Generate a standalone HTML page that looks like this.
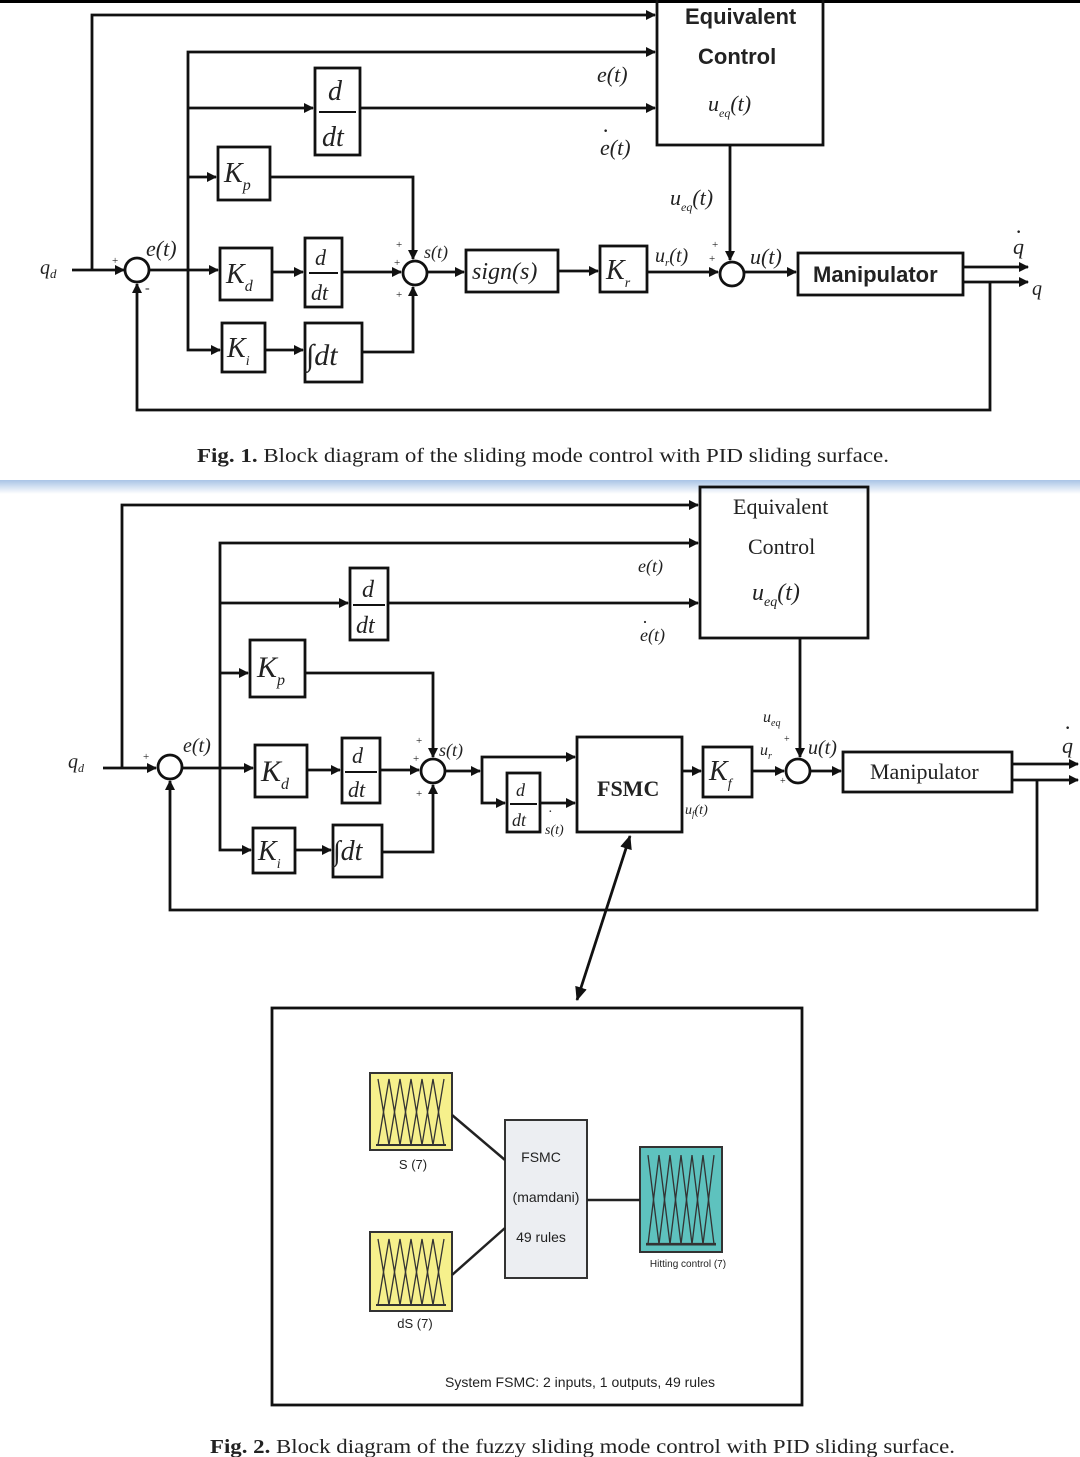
<!DOCTYPE html>
<html><head><meta charset="utf-8"><style>
html,body{margin:0;padding:0;background:#fff;}
svg{display:block;}
.s{font-family:"Liberation Serif",serif;font-style:italic;fill:#222;}
.r{font-family:"Liberation Serif",serif;fill:#222;}
.a{font-family:"Liberation Sans",sans-serif;fill:#222;}
</style></head><body>
<svg width="1080" height="1457" viewBox="0 0 1080 1457" xmlns="http://www.w3.org/2000/svg">
<defs>
<marker id="ar" markerWidth="10" markerHeight="10" refX="9" refY="5" orient="auto" markerUnits="userSpaceOnUse"><path d="M0,0 L10,5 L0,10 z" fill="#111"/></marker>
<marker id="ar2" markerWidth="14" markerHeight="12" refX="13" refY="6" orient="auto-start-reverse" markerUnits="userSpaceOnUse"><path d="M0,0 L14,6 L0,12 z" fill="#111"/></marker>
<linearGradient id="bl" x1="0" y1="0" x2="0" y2="1"><stop offset="0" stop-color="#a9c4e6"/><stop offset="1" stop-color="#ffffff"/></linearGradient>
<g id="mf"><polyline points="8,6 19,72 30,6 41,72 52,6 63,72 74,6" fill="none" stroke="#333" stroke-width="1.3"/><polyline points="8,72 19,6 30,72 41,6 52,72 63,6 74,72" fill="none" stroke="#333" stroke-width="1.3"/><line x1="6" y1="72" x2="76" y2="72" stroke="#333" stroke-width="2"/></g>
</defs>
<rect x="0" y="0" width="1080" height="3" fill="#000"/>
<rect x="0" y="480" width="1080" height="14" fill="url(#bl)"/>

<!-- FIG 1 -->
<g stroke="#111" stroke-width="2.8" fill="none">
<rect x="657" y="-2" width="166" height="147"/>
<rect x="315" y="68" width="45" height="87"/>
<rect x="218" y="147" width="52" height="53"/>
<rect x="220" y="248" width="52" height="52"/>
<rect x="305" y="238" width="37" height="69"/>
<rect x="222" y="323" width="43" height="49"/>
<rect x="305" y="323" width="57" height="59"/>
<rect x="466" y="250" width="92" height="42"/>
<rect x="600" y="246" width="47" height="46"/>
<rect x="798" y="253" width="165" height="42"/>
<circle cx="137" cy="270" r="12" fill="#fff"/>
<circle cx="415" cy="273" r="12" fill="#fff"/>
<circle cx="732" cy="274" r="12" fill="#fff"/>
<line x1="72" y1="270" x2="124" y2="270" marker-end="url(#ar)"/>
<polyline points="92,270 92,15 655,15" marker-end="url(#ar)"/>
<line x1="149" y1="270" x2="218" y2="270" marker-end="url(#ar)"/>
<polyline points="188,270 188,52 655,52"  marker-end="url(#ar)"/>
<line x1="188" y1="108" x2="313" y2="108" marker-end="url(#ar)"/>
<line x1="360" y1="108" x2="655" y2="108" marker-end="url(#ar)"/>
<line x1="188" y1="177" x2="216" y2="177" marker-end="url(#ar)"/>
<polyline points="188,270 188,350 220,350" marker-end="url(#ar)"/>
<polyline points="270,177 413,177 413,259" marker-end="url(#ar)"/>
<line x1="272" y1="272" x2="303" y2="272" marker-end="url(#ar)"/>
<line x1="342" y1="272" x2="401" y2="272" marker-end="url(#ar)"/>
<line x1="265" y1="350" x2="303" y2="350" marker-end="url(#ar)"/>
<polyline points="362,352 413,352 413,287" marker-end="url(#ar)"/>
<line x1="427" y1="272" x2="464" y2="272" marker-end="url(#ar)"/>
<line x1="558" y1="271" x2="598" y2="271" marker-end="url(#ar)"/>
<line x1="647" y1="272" x2="718" y2="272" marker-end="url(#ar)"/>
<line x1="730" y1="145" x2="730" y2="260" marker-end="url(#ar)"/>
<line x1="744" y1="272" x2="796" y2="272" marker-end="url(#ar)"/>
<line x1="963" y1="267" x2="1028" y2="267" marker-end="url(#ar)"/>
<line x1="963" y1="282" x2="1028" y2="282" marker-end="url(#ar)"/>
<polyline points="990,282 990,410 137,410 137,284" marker-end="url(#ar)"/>
</g>
<g fill="#111" stroke="#111" stroke-width="2"><line x1="319" y1="112" x2="356" y2="112"/><line x1="309" y1="273" x2="338" y2="273"/></g>
<text x="40" y="274" class="s" font-size="20">q<tspan font-size="13" dy="4">d</tspan></text>
<text x="112" y="264" class="r" font-size="11">+</text>
<text x="145" y="292" class="r" font-size="14">-</text>
<text x="146" y="256" class="s" font-size="22">e(t)</text>
<text x="685" y="24" class="a" font-size="22" font-weight="bold">Equivalent</text>
<text x="698" y="64" class="a" font-size="22" font-weight="bold">Control</text>
<text x="708" y="111" class="s" font-size="22">u<tspan font-size="12" dy="6">eq</tspan><tspan dy="-6">(t)</tspan></text>
<text x="597" y="82" class="s" font-size="22">e(t)</text>
<text x="600" y="155" class="s" font-size="22">e(t)</text><text x="602" y="138" class="r" font-size="22">·</text>
<text x="328" y="100" class="s" font-size="28">d</text><text x="322" y="146" class="s" font-size="28">dt</text>
<text x="224" y="182" class="s" font-size="28">K<tspan font-size="16" dy="8">p</tspan></text>
<text x="226" y="283" class="s" font-size="28">K<tspan font-size="16" dy="8">d</tspan></text>
<text x="315" y="265" class="s" font-size="22">d</text><text x="311" y="300" class="s" font-size="22">dt</text>
<text x="227" y="357" class="s" font-size="28">K<tspan font-size="14" dy="8">i</tspan></text>
<text x="306" y="365" class="s" font-size="30">∫dt</text>
<text x="396" y="248" class="r" font-size="11">+</text>
<text x="394" y="266" class="r" font-size="11">+</text>
<text x="396" y="298" class="r" font-size="11">+</text>
<text x="424" y="258" class="s" font-size="18">s(t)</text>
<text x="472" y="279" class="s" font-size="24">sign(s)</text>
<text x="606" y="279" class="s" font-size="28">K<tspan font-size="14" dy="8">r</tspan></text>
<text x="670" y="205" class="s" font-size="22">u<tspan font-size="12" dy="6">eq</tspan><tspan dy="-6">(t)</tspan></text>
<text x="655" y="262" class="s" font-size="20">u<tspan font-size="11" dy="4">r</tspan><tspan dy="-4">(t)</tspan></text>
<text x="712" y="248" class="r" font-size="11">+</text>
<text x="709" y="262" class="r" font-size="11">+</text>
<text x="750" y="264" class="s" font-size="22">u(t)</text>
<text x="813" y="282" class="a" font-size="22" font-weight="bold">Manipulator</text>
<text x="1013" y="254" class="s" font-size="22">q</text><text x="1015" y="239" class="r" font-size="22">·</text>
<text x="1032" y="295" class="s" font-size="20">q</text>
<text x="197" y="462" class="r" font-size="20" textLength="692" lengthAdjust="spacingAndGlyphs"><tspan font-weight="bold">Fig. 1.</tspan> Block diagram of the sliding mode control with PID sliding surface.</text>

<!-- FIG 2 -->
<g stroke="#111" stroke-width="2.8" fill="none">
<rect x="700" y="487" width="168" height="151"/>
<rect x="350" y="568" width="38" height="72"/>
<rect x="250" y="640" width="55" height="57"/>
<rect x="255" y="745" width="52" height="52"/>
<rect x="342" y="738" width="38" height="65"/>
<rect x="253" y="828" width="42" height="45"/>
<rect x="333" y="825" width="49" height="52"/>
<rect x="507" y="773" width="33" height="59"/>
<rect x="577" y="737" width="105" height="95"/>
<rect x="703" y="747" width="49" height="50"/>
<rect x="843" y="752" width="169" height="40"/>
<circle cx="170" cy="767" r="12" fill="#fff"/>
<circle cx="433" cy="771" r="12" fill="#fff"/>
<circle cx="798" cy="771" r="12" fill="#fff"/>
<line x1="103" y1="768" x2="156" y2="768" marker-end="url(#ar)"/>
<polyline points="122,768 122,505 698,505" marker-end="url(#ar)"/>
<line x1="182" y1="768" x2="253" y2="768" marker-end="url(#ar)"/>
<polyline points="220,768 220,543 698,543" marker-end="url(#ar)"/>
<line x1="220" y1="603" x2="348" y2="603" marker-end="url(#ar)"/>
<line x1="388" y1="603" x2="698" y2="603" marker-end="url(#ar)"/>
<line x1="220" y1="673" x2="248" y2="673" marker-end="url(#ar)"/>
<polyline points="220,768 220,850 251,850" marker-end="url(#ar)"/>
<polyline points="305,673 433,673 433,757" marker-end="url(#ar)"/>
<line x1="307" y1="770" x2="340" y2="770" marker-end="url(#ar)"/>
<line x1="380" y1="770" x2="419" y2="770" marker-end="url(#ar)"/>
<line x1="295" y1="850" x2="331" y2="850" marker-end="url(#ar)"/>
<polyline points="382,852 433,852 433,785" marker-end="url(#ar)"/>
<line x1="445" y1="771" x2="480" y2="771" marker-end="url(#ar)"/>
<polyline points="482,771 482,757 575,757" marker-end="url(#ar)"/>
<polyline points="482,771 482,803 505,803" marker-end="url(#ar)"/>
<line x1="540" y1="803" x2="575" y2="803" marker-end="url(#ar)"/>
<line x1="682" y1="771" x2="701" y2="771" marker-end="url(#ar)"/>
<line x1="752" y1="771" x2="784" y2="771" marker-end="url(#ar)"/>
<line x1="800" y1="638" x2="800" y2="757" marker-end="url(#ar)"/>
<line x1="810" y1="771" x2="841" y2="771" marker-end="url(#ar)"/>
<line x1="1012" y1="764" x2="1078" y2="764" marker-end="url(#ar)"/>
<line x1="1012" y1="780" x2="1078" y2="780" marker-end="url(#ar)"/>
<polyline points="1037,780 1037,910 170,910 170,781" marker-end="url(#ar)"/>
<line x1="630" y1="836" x2="577" y2="1000" marker-start="url(#ar2)" marker-end="url(#ar2)"/>
<rect x="272" y="1008" width="530" height="397"/>
</g>
<g stroke="#111" stroke-width="2"><line x1="353" y1="605" x2="385" y2="605"/><line x1="345" y1="772" x2="377" y2="772"/><line x1="510" y1="804" x2="537" y2="804"/></g>
<text x="68" y="768" class="s" font-size="20">q<tspan font-size="12" dy="4">d</tspan></text>
<text x="143" y="760" class="r" font-size="11">+</text>
<text x="183" y="752" class="s" font-size="20">e(t)</text>
<text x="733" y="514" class="r" font-size="22">Equivalent</text>
<text x="748" y="554" class="r" font-size="22">Control</text>
<text x="752" y="600" class="s" font-size="24">u<tspan font-size="14" dy="6">eq</tspan><tspan dy="-6">(t)</tspan></text>
<text x="638" y="572" class="s" font-size="18">e(t)</text>
<text x="640" y="641" class="s" font-size="18">e(t)</text><text x="642" y="628" class="r" font-size="18">·</text>
<text x="362" y="597" class="s" font-size="24">d</text><text x="356" y="633" class="s" font-size="24">dt</text>
<text x="257" y="677" class="s" font-size="30">K<tspan font-size="16" dy="8">p</tspan></text>
<text x="261" y="781" class="s" font-size="30">K<tspan font-size="16" dy="8">d</tspan></text>
<text x="352" y="763" class="s" font-size="22">d</text><text x="348" y="797" class="s" font-size="22">dt</text>
<text x="258" y="860" class="s" font-size="28">K<tspan font-size="14" dy="8">i</tspan></text>
<text x="333" y="860" class="s" font-size="28">∫dt</text>
<text x="416" y="744" class="r" font-size="11">+</text>
<text x="413" y="762" class="r" font-size="11">+</text>
<text x="416" y="797" class="r" font-size="11">+</text>
<text x="439" y="756" class="s" font-size="18">s(t)</text>
<text x="516" y="796" class="s" font-size="18">d</text><text x="512" y="826" class="s" font-size="18">dt</text>
<text x="545" y="834" class="s" font-size="14">s(t)</text><text x="548" y="816" class="r" font-size="14">·</text>
<text x="597" y="796" class="r" font-size="22" font-weight="bold">FSMC</text>
<text x="709" y="780" class="s" font-size="28">K<tspan font-size="14" dy="8">f</tspan></text>
<text x="685" y="814" class="s" font-size="14">u<tspan font-size="9" dy="3">f</tspan><tspan dy="-3">(t)</tspan></text>
<text x="763" y="722" class="s" font-size="16">u<tspan font-size="10" dy="4">eq</tspan></text>
<text x="760" y="755" class="s" font-size="16">u<tspan font-size="10" dy="4">r</tspan></text>
<text x="784" y="742" class="r" font-size="10">+</text>
<text x="780" y="784" class="r" font-size="10">+</text>
<text x="808" y="754" class="s" font-size="20">u(t)</text>
<text x="870" y="779" class="r" font-size="22">Manipulator</text>
<text x="1062" y="753" class="s" font-size="22">q</text><text x="1064" y="735" class="r" font-size="22">·</text>

<!-- inner fuzzy -->
<rect x="370" y="1073" width="82" height="77" fill="#f6f08c" stroke="#333" stroke-width="2"/>
<use href="#mf" x="370" y="1073"/>
<rect x="370" y="1232" width="82" height="79" fill="#f6f08c" stroke="#333" stroke-width="2"/>
<use href="#mf" x="370" y="1233"/>
<rect x="640" y="1147" width="82" height="105" fill="#5ec2be" stroke="#333" stroke-width="2"/>
<g transform="translate(640,1147) scale(1,1.35)"><use href="#mf"/></g>
<rect x="505" y="1120" width="82" height="158" fill="#eceef2" stroke="#333" stroke-width="2"/>
<g stroke="#222" stroke-width="2.5"><line x1="452" y1="1115" x2="505" y2="1160"/><line x1="452" y1="1275" x2="505" y2="1228"/><line x1="587" y1="1200" x2="640" y2="1200"/></g>
<text x="413" y="1169" class="a" font-size="13" text-anchor="middle">S (7)</text>
<text x="415" y="1328" class="a" font-size="13" text-anchor="middle">dS (7)</text>
<text x="541" y="1162" class="a" font-size="14" text-anchor="middle">FSMC</text>
<text x="546" y="1202" class="a" font-size="14" text-anchor="middle">(mamdani)</text>
<text x="541" y="1242" class="a" font-size="14" text-anchor="middle">49 rules</text>
<text x="688" y="1267" class="a" font-size="10" text-anchor="middle">Hitting control (7)</text>
<text x="580" y="1387" class="a" font-size="14" text-anchor="middle">System FSMC: 2 inputs, 1 outputs, 49 rules</text>
<text x="210" y="1453" class="r" font-size="20" textLength="745" lengthAdjust="spacingAndGlyphs"><tspan font-weight="bold">Fig. 2.</tspan> Block diagram of the fuzzy sliding mode control with PID sliding surface.</text>
</svg>
</body></html>
